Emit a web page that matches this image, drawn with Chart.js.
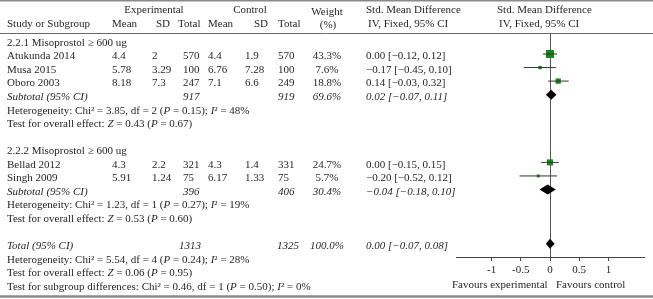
<!DOCTYPE html>
<html>
<head>
<meta charset="utf-8">
<script src="https://cdn.jsdelivr.net/npm/chart.js@4.4.1/dist/chart.umd.min.js"></script>
<style>
  html, body { margin: 0; padding: 0; background: #fff; }
  canvas { display: block; }
</style>
</head>
<body>
<canvas id="forest" width="653" height="299"></canvas>
<script>
// ---- data ----
const groupLabels = ['2.2.1 Misoprostol \u2265 600 ug', '2.2.2 Misoprostol \u2265 600 ug'];
const studyNames = ['Atukunda 2014', 'Musa 2015', 'Oboro 2003', 'Bellad 2012', 'Singh 2009'];
const studyGroup = [0, 0, 0, 1, 1];
const expMean = [4.4, 5.78, 8.18, 4.3, 5.91];
const expSD = [2, 3.29, 7.3, 2.2, 1.24];
const expTotal = [570, 100, 247, 321, 75];
const ctlMean = [4.4, 6.76, 7.1, 4.3, 6.17];
const ctlSD = [1.9, 7.28, 6.6, 1.4, 1.33];
const ctlTotal = [570, 100, 249, 331, 75];
const weights = [43.3, 7.6, 18.8, 24.7, 5.7];
const smd = [0.00, -0.17, 0.14, 0.00, -0.20];
const smdLow = [-0.12, -0.45, -0.03, -0.15, -0.52];
const smdHigh = [0.12, 0.10, 0.32, 0.15, 0.12];

const subExpTotal = [917, 396];
const subCtlTotal = [919, 406];
const subWeight = [69.6, 30.4];
const subSmd = [0.02, -0.04];
const subLow = [-0.07, -0.18];
const subHigh = [0.11, 0.10];
const subChi = [3.85, 1.23];
const subDf = [2, 1];
const subHetP = [0.15, 0.27];
const subI2 = [48, 19];
const subZ = [0.43, 0.53];
const subZP = [0.67, 0.60];

const totalExp = 1313;
const totalCtl = 1325;
const totalWeight = 100.0;
const totalSmd = 0.00;
const totalLow = -0.07;
const totalHigh = 0.08;
const totalChi = 5.54, totalDf = 4, totalHetP = 0.24, totalI2 = 28;
const totalZ = 0.06, totalZP = 0.95;
const diffChi = 0.46, diffDf = 1, diffP = 0.50, diffI2 = 0;

const tickValues = [-1, -0.5, 0, 0.5, 1];
const tickLabels = ['-1', '-0.5', '0', '0.5', '1'];

// ---- layout ----
const W = 653, H = 299;
const PLOT_TOP = 34, AXIS_Y = 257, FIRST_MARK_Y = 54, ROW_H = 13.55;
const TEXT_DY = 2.5;
const FONT = '"Liberation Serif", "Times New Roman", serif';
const TEXT_COLOR = '#231f20';
const SQUARE_COLOR = '#108a10';
const MAX_SQUARE = 8;

const col = { study: 7, eMean: 112, eSD: 152, eTot: 183, cMean: 208, cSD: 245, cTot: 278, weight: 327, ci: 366 };

const fmtSmd = v => (v < 0 ? '\u2212' : '') + Math.abs(v).toFixed(2);
const fmtCi = (e, lo, hi) => `${fmtSmd(e)} [${fmtSmd(lo)}, ${fmtSmd(hi)}]`;
const hetText = (chi, df, p, i2) => `Heterogeneity: Chi\u00b2 = ${chi.toFixed(2)}, df = ${df} (_P_ = ${p.toFixed(2)}); _I_\u00b2 = ${i2}%`;
const effText = (z, p) => `Test for overall effect: _Z_ = ${z.toFixed(2)} (_P_ = ${p.toFixed(2)})`;

// build the row list
const rows = [];
const studyRow = [];
let r = 0;
groupLabels.forEach((label, g) => {
    rows.push({ row: r++, cells: [[col.study, label]] });
    studyNames.forEach((name, i) => {
        if (studyGroup[i] !== g) return;
        studyRow[i] = r;
        rows.push({ row: r++, cells: [
            [col.study, name], [col.eMean, String(expMean[i])], [col.eSD, String(expSD[i])],
            [col.eTot, String(expTotal[i])], [col.cMean, String(ctlMean[i])], [col.cSD, String(ctlSD[i])],
            [col.cTot, String(ctlTotal[i])], [col.weight, weights[i].toFixed(1) + '%', 'center'],
            [col.ci, fmtCi(smd[i], smdLow[i], smdHigh[i])]
        ] });
    });
    rows.push({ row: r, summary: { e: subSmd[g], lo: subLow[g], hi: subHigh[g] }, cells: [
        [col.study, '_Subtotal (95% CI)_'], [col.eTot, '_' + subExpTotal[g] + '_'],
        [col.cTot, '_' + subCtlTotal[g] + '_'], [col.weight, '_' + subWeight[g].toFixed(1) + '%_', 'center'],
        [col.ci, '_' + fmtCi(subSmd[g], subLow[g], subHigh[g]) + '_']
    ] });
    r++;
    rows.push({ row: r++, cells: [[col.study, hetText(subChi[g], subDf[g], subHetP[g], subI2[g])]] });
    rows.push({ row: r++, cells: [[col.study, effText(subZ[g], subZP[g])]] });
    r++;
});
rows.push({ row: r, summary: { e: totalSmd, lo: totalLow, hi: totalHigh }, cells: [
    [col.study, '_Total (95% CI)_'], [col.eTot - 4, '_' + totalExp + '_'], [col.cTot - 1, '_' + totalCtl + '_'],
    [col.weight, '_' + totalWeight.toFixed(1) + '%_', 'center'], [col.ci, '_' + fmtCi(totalSmd, totalLow, totalHigh) + '_']
] });
r++;
rows.push({ row: r++, cells: [[col.study, hetText(totalChi, totalDf, totalHetP, totalI2)]] });
rows.push({ row: r++, cells: [[col.study, effText(totalZ, totalZP)]] });
rows.push({ row: r++, cells: [[col.study, `Test for subgroup differences: Chi\u00b2 = ${diffChi.toFixed(2)}, df = ${diffDf} (_P_ = ${diffP.toFixed(2)}); _I_\u00b2 = ${diffI2}%`]] });

// draws text where "_" toggles italic
function drawRich(ctx, text, x, y, align) {
    const parts = text.split('_');
    const fontFor = idx => (idx % 2 ? 'italic ' : '') + '11px ' + FONT;
    let total = 0;
    parts.forEach((p, idx) => { ctx.font = fontFor(idx); total += ctx.measureText(p).width; });
    let cx = align === 'center' ? x - total / 2 : x;
    parts.forEach((p, idx) => {
        ctx.font = fontFor(idx);
        ctx.fillText(p, cx, y);
        cx += ctx.measureText(p).width;
    });
}

const tablePlugin = {
    id: 'forestTable',
    afterDatasetsDraw(chart) {
        const { ctx, scales: { x, y } } = chart;
        ctx.save();
        // summary diamonds
        ctx.fillStyle = '#000';
        rows.filter(row => row.summary).forEach(row => {
            const s = row.summary;
            const cy = y.getPixelForValue(row.row);
            ctx.beginPath();
            ctx.moveTo(x.getPixelForValue(s.lo), cy);
            ctx.lineTo(x.getPixelForValue(s.e), cy - 5);
            ctx.lineTo(x.getPixelForValue(s.hi), cy);
            ctx.lineTo(x.getPixelForValue(s.e), cy + 5);
            ctx.closePath();
            ctx.fill();
        });
        ctx.restore();
    },
    afterDraw(chart) {
        const { ctx, scales: { y } } = chart;
        ctx.save();
        // rules
        ctx.strokeStyle = '#8a8a8a';
        ctx.lineWidth = 1.5;
        ctx.beginPath(); ctx.moveTo(0, 0.75); ctx.lineTo(W, 0.75); ctx.stroke();
        ctx.strokeStyle = '#6a6a6a';
        ctx.lineWidth = 1;
        ctx.beginPath(); ctx.moveTo(0, PLOT_TOP - 0.5); ctx.lineTo(W, PLOT_TOP - 0.5); ctx.stroke();
        ctx.strokeStyle = '#8a8a8a';
        ctx.lineWidth = 2.5;
        ctx.beginPath(); ctx.moveTo(0, H - 2.5); ctx.lineTo(W, H - 2.5); ctx.stroke();

        ctx.fillStyle = TEXT_COLOR;
        ctx.textBaseline = 'middle';
        ctx.textAlign = 'left';
        // header
        drawRich(ctx, 'Experimental', 154, 10.5, 'center');
        drawRich(ctx, 'Control', 250, 10.5, 'center');
        drawRich(ctx, 'Weight', 327, 12.5, 'center');
        drawRich(ctx, '(%)', 328, 25, 'center');
        drawRich(ctx, 'Std. Mean Difference', 366, 10.5);
        drawRich(ctx, 'IV, Fixed, 95% CI', 368, 24);
        drawRich(ctx, 'Std. Mean Difference', 497, 10.5);
        drawRich(ctx, 'IV, Fixed, 95% CI', 499, 24);
        drawRich(ctx, 'Study or Subgroup', col.study, 24);
        drawRich(ctx, 'Mean', 112, 24);
        drawRich(ctx, 'SD', 156, 24);
        drawRich(ctx, 'Total', 178, 24);
        drawRich(ctx, 'Mean', 208, 24);
        drawRich(ctx, 'SD', 254, 24);
        drawRich(ctx, 'Total', 278, 24);
        // body
        rows.forEach(row => {
            const ty = y.getPixelForValue(row.row) + TEXT_DY;
            row.cells.forEach(([cx, text, align]) => drawRich(ctx, text, cx, ty, align));
        });
        // axis captions
        drawRich(ctx, 'Favours experimental', 452, 285);
        drawRich(ctx, 'Favours control', 556, 285);
        ctx.restore();
    }
};

const datasets = [];
studyNames.forEach((name, i) => {
    datasets.push({
        type: 'line',
        data: [{ x: smdLow[i], y: studyRow[i] }, { x: smdHigh[i], y: studyRow[i] }],
        borderColor: '#333',
        borderWidth: 1,
        pointRadius: 0
    });
});
datasets.push({
    type: 'scatter',
    data: studyNames.map((n, i) => ({ x: smd[i], y: studyRow[i] })),
    pointStyle: 'rect',
    // square side scales with sqrt(weight); rect radius r draws side r*sqrt(2)
    pointRadius: weights.map(w => MAX_SQUARE * Math.sqrt(w / Math.max(...weights)) / Math.SQRT2),
    backgroundColor: SQUARE_COLOR,
    borderWidth: 0
});

new Chart(document.getElementById('forest'), {
    type: 'scatter',
    data: { datasets },
    options: {
        responsive: false,
        devicePixelRatio: 1,
        animation: false,
        events: [],
        layout: { padding: { left: 456, right: 9, top: PLOT_TOP, bottom: 0 } },
        plugins: { legend: { display: false }, tooltip: { enabled: false } },
        scales: {
            x: {
                type: 'linear',
                position: 'bottom',
                min: -1.61,
                max: 1.61,
                afterBuildTicks: s => { s.ticks = tickValues.map(v => ({ value: v })); },
                afterFit: s => { s.height = H - AXIS_Y; },
                ticks: {
                    autoSkip: false,
                    maxRotation: 0,
                    padding: 3,
                    color: TEXT_COLOR,
                    font: { family: FONT, size: 11 },
                    callback: v => tickLabels[tickValues.indexOf(v)]
                },
                grid: {
                    drawOnChartArea: true,
                    color: c => (c.tick && c.tick.value === 0 ? '#555' : 'rgba(0,0,0,0)'),
                    tickColor: '#444',
                    tickLength: 4
                },
                border: { display: true, color: '#444', width: 1 }
            },
            y: {
                type: 'linear',
                display: false,
                reverse: true,
                min: 1 - (FIRST_MARK_Y - PLOT_TOP) / ROW_H,
                max: 1 + (AXIS_Y - FIRST_MARK_Y) / ROW_H
            }
        }
    },
    plugins: [tablePlugin]
});
</script>
</body>
</html>
